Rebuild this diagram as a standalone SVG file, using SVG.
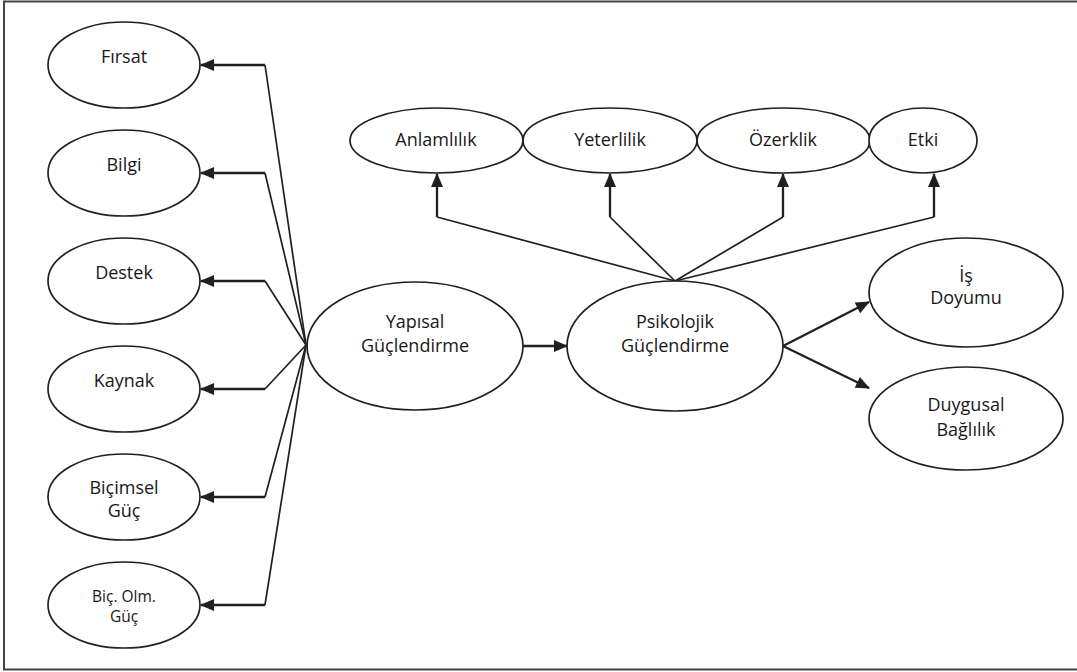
<svg xmlns="http://www.w3.org/2000/svg" width="1077" height="672" viewBox="0 0 1077 672">
<style>
.n ellipse{fill:#fff;stroke:#231f20;stroke-width:1.7}
text{font-family:"Open Sans","Noto Sans",sans-serif;font-size:18px;fill:#1a1718;text-anchor:middle}
.s{font-size:15.5px}
.c path{fill:none;stroke:#231f20;stroke-width:1.7;stroke-linejoin:miter}
.c .a{stroke-width:2.3}
</style>
<defs>
<marker id="ah" markerUnits="userSpaceOnUse" markerWidth="14" markerHeight="12" refX="13" refY="6" orient="auto" overflow="visible">
<path d="M0,0 L14,6 L0,12 Z" fill="#231f20"/>
</marker>
</defs>
<rect x="4" y="1.5" width="1076" height="668" fill="#fff" stroke="#444" stroke-width="2"/>
<g class="c" id="connectors">
<path d="M306,345 L265,65"/><path class="a" d="M265,65 L201,65" marker-end="url(#ah)"/>
<path d="M306,345 L265,173"/><path class="a" d="M265,173 L201,173" marker-end="url(#ah)"/>
<path d="M306,345 L265,281"/><path class="a" d="M265,281 L201,281" marker-end="url(#ah)"/>
<path d="M306,345 L265,389"/><path class="a" d="M265,389 L201,389" marker-end="url(#ah)"/>
<path d="M306,345 L265,497"/><path class="a" d="M265,497 L201,497" marker-end="url(#ah)"/>
<path d="M306,345 L265,605"/><path class="a" d="M265,605 L201,605" marker-end="url(#ah)"/>
<path class="a" d="M523,346 L567,346" marker-end="url(#ah)"/>
<path d="M675,281 L437,217"/><path class="a" d="M437,217 L437,174" marker-end="url(#ah)"/>
<path d="M675,281 L610,217"/><path class="a" d="M610,217 L610,174" marker-end="url(#ah)"/>
<path d="M675,281 L783,217"/><path class="a" d="M783,217 L783,174" marker-end="url(#ah)"/>
<path d="M675,281 L934,217"/><path class="a" d="M934,217 L934,174" marker-end="url(#ah)"/>
<path class="a" d="M783,346 L869,302" marker-end="url(#ah)"/>
<path class="a" d="M783,346 L869,388" marker-end="url(#ah)"/>
</g>
<g class="n" id="firsat"><ellipse cx="124" cy="65" rx="76" ry="43"/><text x="124" y="63">Fırsat</text></g>
<g class="n" id="bilgi"><ellipse cx="124" cy="173" rx="76" ry="43"/><text x="124" y="171">Bilgi</text></g>
<g class="n" id="destek"><ellipse cx="124" cy="281" rx="76" ry="43"/><text x="124" y="279">Destek</text></g>
<g class="n" id="kaynak"><ellipse cx="124" cy="389" rx="76" ry="43"/><text x="124" y="387">Kaynak</text></g>
<g class="n" id="bicimsel"><ellipse cx="124" cy="497" rx="76" ry="43"/><text x="124" y="494">Biçimsel</text><text x="124" y="517">Güç</text></g>
<g class="n" id="bicolm"><ellipse cx="124" cy="605" rx="76" ry="43"/><text class="s" x="124" y="602">Biç. Olm.</text><text class="s" x="124" y="622">Güç</text></g>
<g class="n" id="yapisal"><ellipse cx="415" cy="346" rx="108" ry="64"/><text x="415" y="328">Yapısal</text><text x="415" y="352">Güçlendirme</text></g>
<g class="n" id="psikolojik"><ellipse cx="675" cy="346" rx="108" ry="65"/><text x="675" y="328">Psikolojik</text><text x="675" y="352">Güçlendirme</text></g>
<g class="n" id="anlamlilik"><ellipse cx="436.5" cy="140.5" rx="86.5" ry="32.5"/><text x="436" y="146">Anlamlılık</text></g>
<g class="n" id="yeterlilik"><ellipse cx="610" cy="140.5" rx="87" ry="32.5"/><text x="610" y="146">Yeterlilik</text></g>
<g class="n" id="ozerklik"><ellipse cx="783.5" cy="140.5" rx="86.5" ry="32.5"/><text x="783" y="146">Özerklik</text></g>
<g class="n" id="etki"><ellipse cx="923" cy="140.5" rx="54" ry="32.5"/><text x="923" y="146">Etki</text></g>
<g class="n" id="isdoyumu"><ellipse cx="966" cy="292.5" rx="97" ry="54.5"/><text x="966" y="282">İş</text><text x="966" y="304">Doyumu</text></g>
<g class="n" id="duygusal"><ellipse cx="966" cy="418.5" rx="97" ry="51.5"/><text x="966" y="411">Duygusal</text><text x="966" y="436">Bağlılık</text></g>
</svg>
